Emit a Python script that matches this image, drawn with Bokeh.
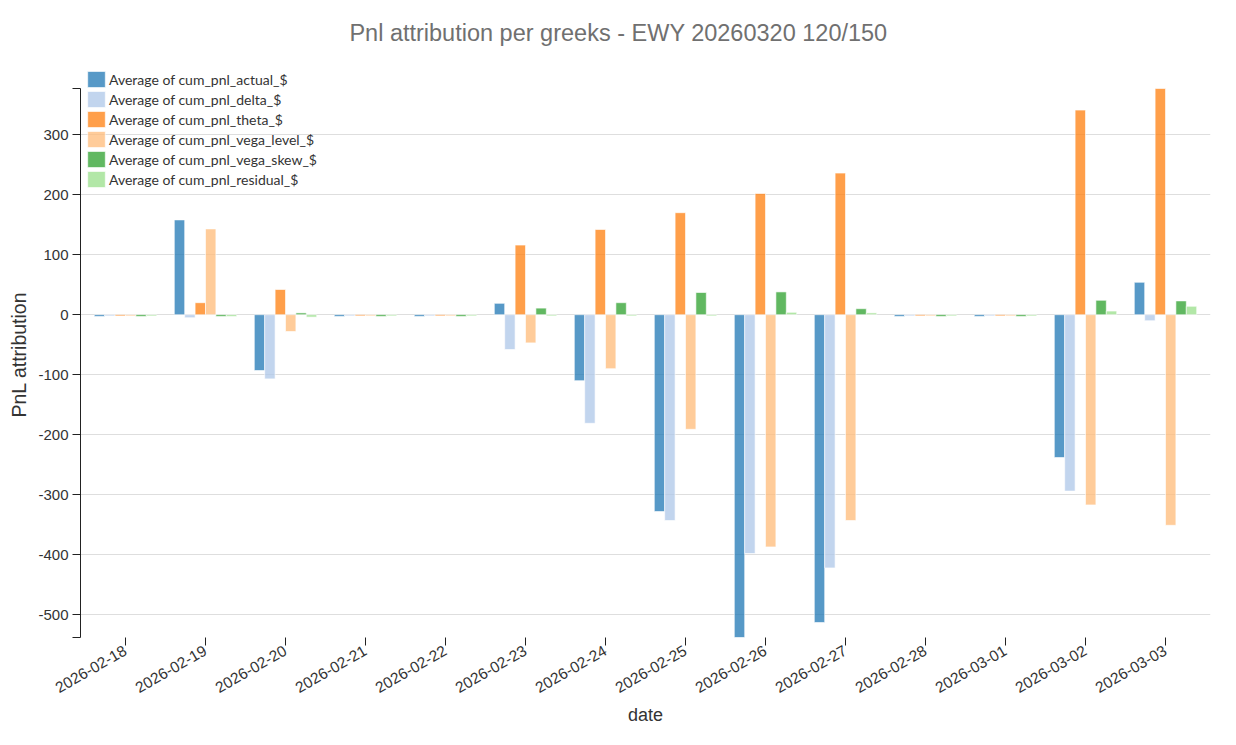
import math
from bokeh.plotting import figure
from bokeh.models import (ColumnDataSource, FactorRange, Range1d, Label, Title,
                          FixedTicker, CustomJSTickFormatter)
from bokeh.transform import dodge
from bokeh.embed import file_html
from bokeh.resources import INLINE

# dates on the x axis
dates = ["2026-02-18", "2026-02-19", "2026-02-20", "2026-02-21", "2026-02-22",
         "2026-02-23", "2026-02-24", "2026-02-25", "2026-02-26", "2026-02-27",
         "2026-02-28", "2026-03-01", "2026-03-02", "2026-03-03"]

# average cumulative pnl per greek
pnl_actual = [-3, 158, -93, -3, -3, 19, -110, -328, -538, -513, -3, -3, -238, 54]
pnl_delta = [-2, -5, -107, -2, -2, -58, -181, -343, -398, -422, -2, -2, -294, -10]
pnl_theta = [-2, 20, 42, -2, -2, 116, 142, 170, 202, 236, -2, -2, 341, 377]
pnl_vega_level = [-2, 143, -28, -2, -2, -47, -90, -191, -387, -343, -2, -2, -317, -351]
pnl_vega_skew = [-3, -3, 3, -3, -3, 11, 20, 37, 38, 10, -3, -3, 24, 23]
pnl_residual = [-2, -3, -4, -2, -2, -2, -2, -2, 4, 3, -2, -2, 6, 14]

y_ticks = [-500, -400, -300, -200, -100, 0, 100, 200, 300]

series = [
    ("cum_pnl_actual_$", pnl_actual, "#1f77b4"),
    ("cum_pnl_delta_$", pnl_delta, "#aec7e8"),
    ("cum_pnl_theta_$", pnl_theta, "#ff7f0e"),
    ("cum_pnl_vega_level_$", pnl_vega_level, "#ffbb78"),
    ("cum_pnl_vega_skew_$", pnl_vega_skew, "#2ca02c"),
    ("cum_pnl_residual_$", pnl_residual, "#98df8a"),
]

data = {"date": dates}
for name, vals, _ in series:
    data[name] = vals
source = ColumnDataSource(data)

all_vals = [v for _, vals, _ in series for v in vals]
y_min, y_max = min(all_vals), max(all_vals)

# plot area is 549px for the data span; the frame is stretched up 88px
# so that the title and the legend (which pokes above the axis) are not clipped
plot_h, top_pad = 549, 88
y_top = y_max + (y_max - y_min) * top_pad / plot_h

p = figure(width=1220, height=729,
           x_range=FactorRange(factors=dates, range_padding=0.125 / 14),
           y_range=Range1d(y_min, y_top),
           output_backend="svg", toolbar_location=None,
           min_border_left=80, min_border_right=10,
           min_border_top=0, min_border_bottom=729 - plot_h - top_pad)

bar_w = 0.13
for i, (name, vals, color) in enumerate(series):
    offset = (i - 2.5) * bar_w
    p.vbar(x=dodge("date", offset, range=p.x_range), top=name, width=bar_w,
           source=source, fill_color=color, fill_alpha=0.75,
           line_color="white", line_alpha=0.6, line_width=1,
           legend_label="Average of " + name)

p.outline_line_color = None
p.xgrid.grid_line_color = None
p.ygrid.ticker = FixedTicker(ticks=y_ticks)
p.ygrid.grid_line_color = "#dedede"
p.ygrid.grid_line_width = 1

# y axis: the two ends get an unlabelled outer tick
p.yaxis.ticker = FixedTicker(ticks=[y_min] + y_ticks + [y_max])
p.yaxis.bounds = (y_min, y_max)
p.yaxis.formatter = CustomJSTickFormatter(
    code="return (tick % 100 === 0) ? tick.toFixed(0) : '';")
p.yaxis.major_label_text_font = "Liberation Sans"
p.yaxis.major_label_text_font_size = "15px"
p.yaxis.major_label_text_color = "#333333"
p.yaxis.major_label_standoff = 4
p.yaxis.major_tick_in = 0
p.yaxis.major_tick_out = 8
p.yaxis.minor_tick_line_color = None
p.yaxis.axis_line_color = "#222222"
p.yaxis.major_tick_line_color = "#222222"

# y axis title centred on the drawn axis, not on the stretched frame
ylab = Title(text="PnL attribution", align="left", offset=220,
             vertical_align="bottom", standoff=11,
             text_font="Liberation Sans", text_font_size="19.5px",
             text_font_style="normal", text_color="#333333")
p.add_layout(ylab, "left")

# x axis
p.xaxis.axis_label = "date"
p.xaxis.axis_label_text_font = "Liberation Sans"
p.xaxis.axis_label_text_font_size = "18px"
p.xaxis.axis_label_text_font_style = "normal"
p.xaxis.axis_label_text_color = "#333333"
p.xaxis.axis_label_standoff = 4
p.xaxis.major_label_text_font = "Liberation Sans"
p.xaxis.major_label_text_font_size = "15.5px"
p.xaxis.major_label_text_color = "#333333"
p.xaxis.major_label_orientation = math.pi / 6
p.xaxis.major_label_standoff = 4
p.xaxis.major_tick_in = 0
p.xaxis.major_tick_out = 8
p.xaxis.axis_line_color = None
p.xaxis.major_tick_line_color = "#222222"

# legend sits over the top-left corner of the plot
p.legend.location = (5, plot_h + top_pad - 69 - 120)
p.legend.orientation = "vertical"
p.legend.label_text_font = "Lato"
p.legend.label_text_font_size = "14px"
p.legend.label_text_color = "#333333"
p.legend.glyph_width = 22
p.legend.glyph_height = 20
p.legend.label_height = 20
p.legend.label_standoff = 2
p.legend.spacing = 0
p.legend.padding = 0
p.legend.margin = 0
p.legend.border_line_color = None
p.legend.background_fill_alpha = 0

title = Label(x=538, y=plot_h + top_pad - 32,
              x_units="screen", y_units="screen",
              text="Pnl attribution per greeks - EWY 20260320 120/150",
              text_font="Liberation Sans", text_font_size="23.5px",
              text_color="#707070", text_align="center",
              text_baseline="middle")
p.add_layout(title)

open("out.html", "w").write(file_html(p, INLINE))
